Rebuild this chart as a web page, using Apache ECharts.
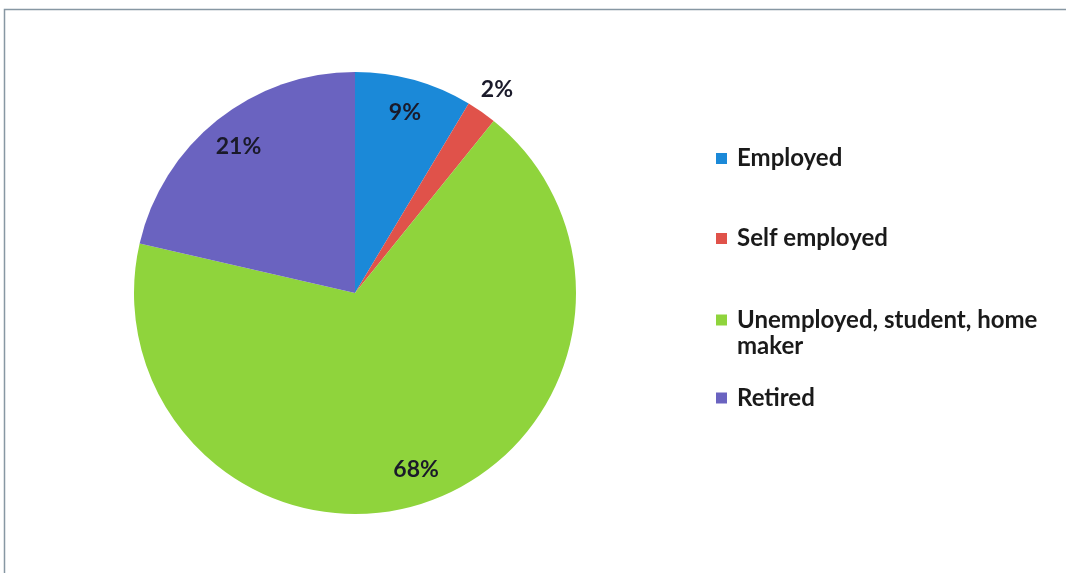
<!DOCTYPE html>
<html><head><meta charset="utf-8">
<script src="https://cdn.jsdelivr.net/npm/echarts@6/dist/echarts.min.js"></script>
<style>html,body{margin:0;padding:0;background:#fff}#c{width:1066px;height:573px}</style>
</head><body><div id="c"></div>
<script>
const categories = ['Employed', 'Self employed', 'Unemployed, student, home maker', 'Retired'];
const values = [8.6, 2.2, 67.8, 21.4];
const colors = ['#1b89d8', '#e0524a', '#8fd43c', '#6a63c0'];
const legendTops = [141.5, 221.5, 303, 381];

const FONT = 'Lato';
const data = categories.map((n, i) => ({ name: n, value: values[i], itemStyle: { color: colors[i] } }));
const center = [355, 293];
const R = 221;

const legends = categories.map((n, i) => ({
  data: [n], orient: 'vertical', left: 711, top: legendTops[i],
  itemWidth: 11, itemHeight: 11, itemGap: 0, icon: 'rect',
  selectedMode: false,
  formatter: nm => nm === 'Unemployed, student, home maker' ? 'Unemployed, student, home' : nm,
  textStyle: { fontFamily: FONT, fontWeight: 'bold', fontSize: 24, color: '#1a1a1a', padding: [0, 0, 0, 5] }
}));

const labelStyle = { formatter: p => Math.round(p.percent) + '%', fontFamily: FONT, fontWeight: 'bold', fontSize: 23, color: '#1a1a2a' };

const option = {
  animation: false,
  backgroundColor: '#fff',
  legend: legends,
  graphic: [
    { type: 'rect', shape: { x: 4.5, y: 9.5, width: 1100, height: 600 }, style: { fill: 'none', stroke: '#8797a3', lineWidth: 1.5 }, silent: true },
    { type: 'text', x: 737, y: 346, style: { text: 'maker', font: 'bold 24px ' + FONT, fill: '#1a1a1a', verticalAlign: 'middle' } }
  ],
  series: [
    {
      type: 'pie', center: center, radius: [0, R], startAngle: 90, clockwise: true,
      data: data, label: { show: false }, labelLine: { show: false }, silent: true
    },
    {
      type: 'pie', center: center, radius: [147, R], startAngle: 90, clockwise: true, silent: true,
      data: data.map((d, i) => ({ name: d.name, value: d.value, itemStyle: { color: 'rgba(0,0,0,0)' },
        label: { show: i !== 1 } })),
      label: Object.assign({ position: 'inside' }, labelStyle),
      labelLine: { show: false }
    },
    {
      type: 'pie', center: center, radius: [234, 256], startAngle: 90, clockwise: true, silent: true,
      data: data.map((d, i) => ({ name: d.name, value: d.value, itemStyle: { color: 'rgba(0,0,0,0)' },
        label: { show: i === 1 } })),
      label: Object.assign({ position: 'inside' }, labelStyle),
      labelLine: { show: false }
    }
  ]
};
echarts.init(document.getElementById('c')).setOption(option);
</script></body></html>
